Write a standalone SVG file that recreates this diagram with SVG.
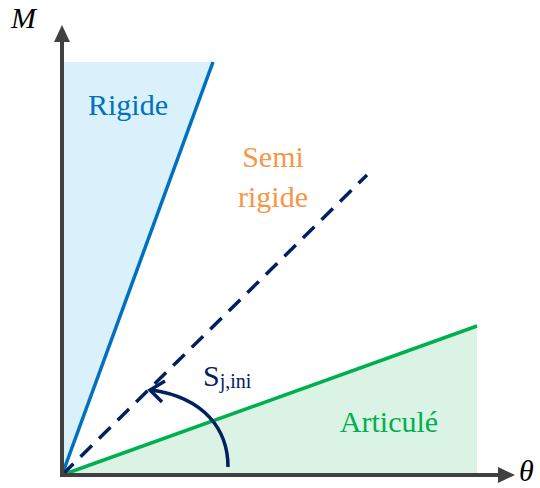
<svg xmlns="http://www.w3.org/2000/svg" width="540" height="488" viewBox="0 0 540 488">
<style>
text{font-family:'Liberation Serif','Times New Roman','DejaVu Serif','Noto Serif',serif;font-size:30px}
.ax{stroke:#404040;stroke-width:4;fill:none}
</style>
<g id="regions">
<polygon points="62,62 213,62 62,475" fill="#DAF1FB"/>
<polygon points="62,475 477,326 477,475" fill="#DAF3E5"/>
</g>
<g id="connectors">
<line x1="62" y1="475" x2="213" y2="62" stroke="#0070C0" stroke-width="3.5"/>
<line x1="62" y1="475" x2="477" y2="326" stroke="#00B050" stroke-width="3.5"/>
<line x1="62" y1="475" x2="367" y2="175" stroke="#002060" stroke-width="3.5" stroke-dasharray="16,10"/>
<path d="M228,467 C228,430 205,398 152,390" fill="none" stroke="#002060" stroke-width="3.5"/>
<path d="M165,381 L150,390 L162,402" fill="none" stroke="#002060" stroke-width="3.5"/>
<line class="ax" x1="62" y1="477" x2="62" y2="40"/>
<path d="M54,42 L62,25 L70,42 Z" fill="#404040"/>
<line class="ax" x1="60" y1="475" x2="500" y2="475"/>
<path d="M498,467 L515,475 L498,483 Z" fill="#404040"/>
</g>
<g id="labels">
<text x="11" y="28" font-style="italic" font-size="27">M</text>
<text x="519" y="481" font-style="italic" font-size="26">θ</text>
<text x="128" y="115" fill="#0070C0" text-anchor="middle">Rigide</text>
<text x="273" y="167" fill="#F79646" text-anchor="middle">Semi</text>
<text x="273" y="207" fill="#F79646" text-anchor="middle">rigide</text>
<text x="389" y="432" fill="#00B050" text-anchor="middle">Articulé</text>
<text x="203" y="386" font-size="28" fill="#002060">S<tspan font-size="20" dy="2">j,ini</tspan></text>
</g>
</svg>
